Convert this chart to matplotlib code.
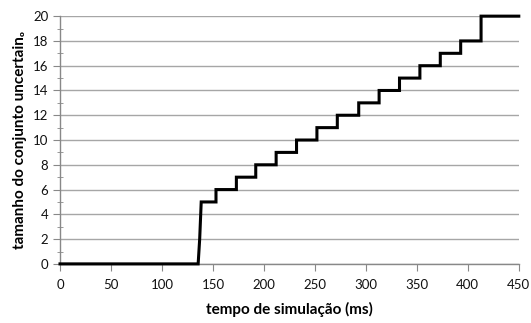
import matplotlib.pyplot as plt
import numpy as np

plt.rcParams['font.family'] = ['Lato', 'DejaVu Sans']

# initial ramp (sampled points) before the staircase begins
ramp_t = [0, 135.5, 137, 138.5]
ramp_size = [0, 0, 2, 5]

# staircase: time at which each new size is reached
step_t = [153, 173, 192, 212, 232, 252, 272, 293, 313, 333, 353, 373, 393, 413]
step_size = [6, 7, 8, 9, 10, 11, 12, 13, 14, 15, 16, 17, 18, 20]
t_end = 450

x_ticks = [0, 50, 100, 150, 200, 250, 300, 350, 400, 450]
y_ticks = [0, 2, 4, 6, 8, 10, 12, 14, 16, 18, 20]


def staircase(t0, y0, ts, ys, t_last):
    xs, yv = [t0], [y0]
    cur = y0
    for t, y in zip(ts, ys):
        xs += [t, t]
        yv += [cur, y]
        cur = y
    xs.append(t_last)
    yv.append(cur)
    return xs, yv


sx, sy = staircase(ramp_t[-1], ramp_size[-1], step_t, step_size, t_end)
x = np.array(ramp_t[:-1] + sx)
y = np.array(ramp_size[:-1] + sy)

fig = plt.figure(figsize=(5.31, 3.23), dpi=100)
ax = fig.add_axes([0.113, 0.183, 0.864, 0.767])

ax.set_xlim(0, 450)
ax.set_ylim(0, 20)
ax.set_xticks(x_ticks)
ax.set_yticks(y_ticks)
ax.set_yticks(np.arange(1, 20, 2), minor=True)

ax.grid(True, axis='y', color='#a6a6a6', linewidth=1)
ax.set_axisbelow(True)
ax.plot(x, y, color='black', linewidth=2.2, solid_joinstyle='miter', clip_on=False, zorder=3)

for s in ['top', 'right']:
    ax.spines[s].set_visible(False)
for s in ['left', 'bottom']:
    ax.spines[s].set_color('#888888')
    ax.spines[s].set_linewidth(1)

ax.tick_params(axis='both', which='major', colors='#888888', labelcolor='#111111',
               labelsize=9.5, length=5, direction='out')
ax.tick_params(axis='y', which='minor', colors='#888888', length=4, direction='inout')
ax.tick_params(axis='x', pad=6)

ax.set_xlabel('tempo de simulação (ms)', fontsize=11, fontweight='bold', labelpad=8)
ax.set_ylabel('tamanho do conjunto uncertain₀', fontsize=11, fontweight='bold', labelpad=4)

fig.savefig('out.png', dpi=100)
